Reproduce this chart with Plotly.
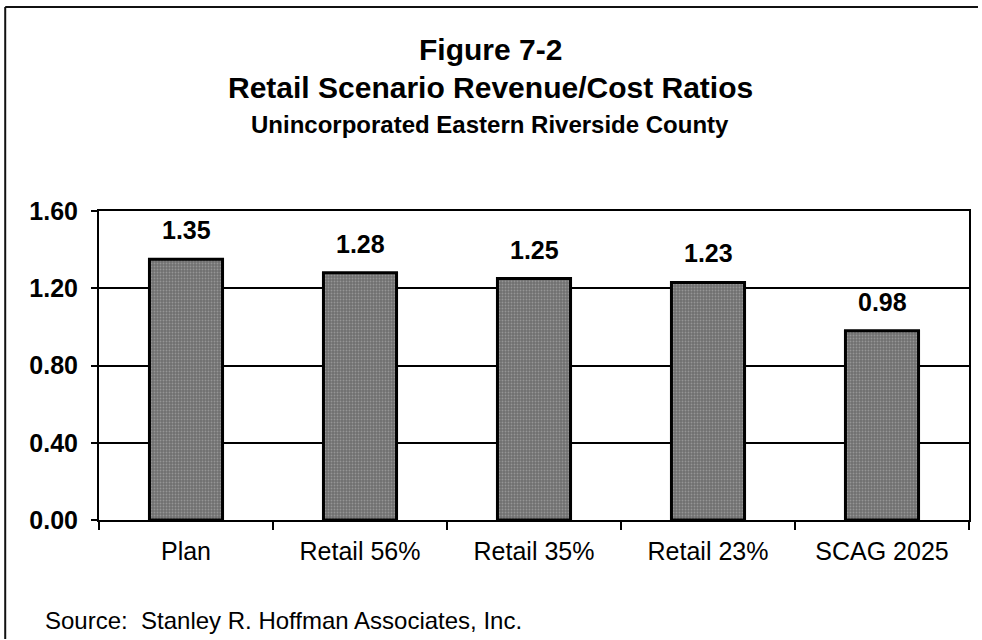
import plotly.graph_objects as go

# Revenue/cost ratios by retail scenario
scenarios = ["Plan", "Retail 56%", "Retail 35%", "Retail 23%", "SCAG 2025"]
ratios = [1.35, 1.28, 1.25, 1.23, 0.98]
y_ticks = [0.0, 0.4, 0.8, 1.2, 1.6]

title_lines = [
    "Figure 7-2",
    "Retail Scenario Revenue/Cost Ratios",
    "Unincorporated Eastern Riverside County",
]
source_note = "Source:\u00a0 Stanley R. Hoffman Associates, Inc."

W, H = 982, 640
L, R, T, B = 99, 11, 211, 120
plot_h = H - T - B
plot_w = W - L - R
FONT = "Liberation Sans, Arial, sans-serif"


def py(y_px):
    """Pixel row -> paper y coordinate."""
    return (H - B - y_px) / plot_h


def px(x_px):
    """Pixel column -> paper x coordinate."""
    return (x_px - L) / plot_w


fig = go.Figure(
    go.Bar(
        x=scenarios,
        y=ratios,
        marker=dict(
            color="#767676",
            line=dict(color="black", width=3),
            pattern=dict(shape=".", fgcolor="#bcbcbc", bgcolor="#6f6f6f",
                         size=3, solidity=0.3),
        ),
        hoverinfo="skip",
    )
)

annotations = []
for cat, val in zip(scenarios, ratios):
    annotations.append(dict(
        x=cat, y=val, xref="x", yref="y", text=f"<b>{val:.2f}</b>",
        showarrow=False, yanchor="bottom", yshift=13,
        font=dict(family=FONT, size=25, color="black"),
    ))

title_specs = [(title_lines[0], 49, 30), (title_lines[1], 88, 30), (title_lines[2], 125, 24)]
for text, y_px, size in title_specs:
    annotations.append(dict(
        x=px(W / 2), y=py(y_px), xref="paper", yref="paper",
        text=f"<b>{text}</b>", showarrow=False, xanchor="center", yanchor="middle",
        font=dict(family=FONT, size=size, color="black"),
    ))

annotations.append(dict(
    x=px(43), y=py(620), xref="paper", yref="paper", text=source_note,
    showarrow=False, xanchor="left", yanchor="middle",
    font=dict(family=FONT, size=24, color="black"),
))

# Frame around the figure: left and top edges only
frame = [
    dict(type="line", xref="paper", yref="paper",
         x0=px(5), x1=px(5), y0=py(7), y1=py(H - 1),
         line=dict(color="#111", width=2)),
    dict(type="line", xref="paper", yref="paper",
         x0=px(5), x1=px(W - 2), y0=py(7), y1=py(7),
         line=dict(color="#111", width=2)),
]

fig.update_layout(
    width=W, height=H,
    margin=dict(l=L, r=R, t=T, b=B, pad=0),
    paper_bgcolor="white", plot_bgcolor="white",
    showlegend=False, bargap=0.58,
    annotations=annotations,
    shapes=frame,
)

fig.update_xaxes(
    type="category", showgrid=False, showline=True, mirror=True,
    linecolor="black", linewidth=2,
    ticks="outside", tickson="boundaries", ticklen=8, tickwidth=2, tickcolor="black",
    ticklabelstandoff=8,
    tickfont=dict(family=FONT, size=25, color="black"),
)
fig.update_yaxes(
    range=[0, 1.6], tickvals=y_ticks, tickformat=".2f",
    showgrid=True, gridcolor="black", gridwidth=1.5,
    showline=True, mirror=True, linecolor="black", linewidth=2,
    ticks="outside", ticklen=6, tickwidth=2, tickcolor="black",
    ticklabelstandoff=8, zeroline=False,
    tickfont=dict(family=FONT, size=25, color="black", weight="bold"),
)

fig.write_html("out.html")
